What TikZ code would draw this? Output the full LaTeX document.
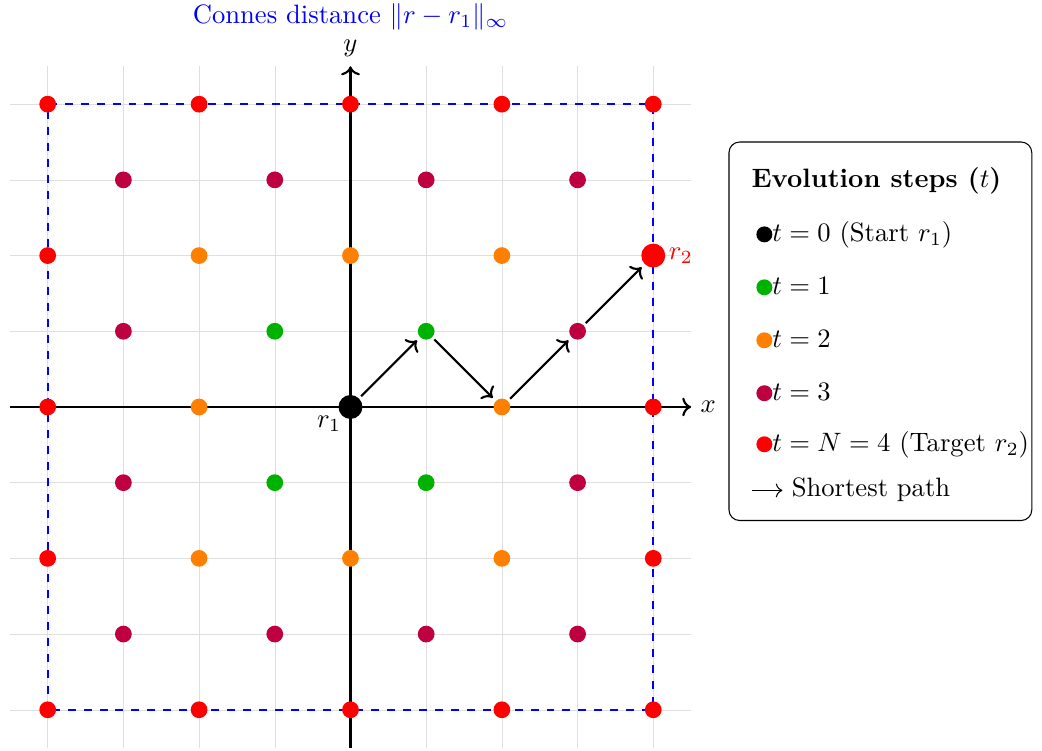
\documentclass[tikz,border=0pt]{standalone}
\usepackage{xcolor}
\usepackage{tikz}
\usetikzlibrary{positioning,arrows.meta}
\colorlet{lvl1}{green!70!black}
\colorlet{lvl2}{orange}
\colorlet{lvl3}{purple}
\colorlet{lvl4}{red}
\newcommand{\legdot}[1]{\hspace{1.8pt}\tikz[baseline=-0.6ex]\fill[#1] (0,0) circle (3pt);}
\newcommand{\legarrow}{\tikz[baseline=-0.5ex]\draw[->] (0,0) -- (0.4,0);}

\begin{document}
\begin{tikzpicture}[
  gridline/.style={gray!25, very thin},
  axis/.style={->, thick},
  bound/.style={blue, dashed, thick},
  dot/.style={circle, inner sep=0pt, minimum size=6.3pt},
  bigdot/.style={circle, inner sep=0pt, minimum size=9pt},
  move/.style={->, thick, shorten <=1pt, shorten >=1.5pt},
  legbox/.style={draw, rounded corners, minimum width=4cm, minimum height=5cm},
  legtext/.style={align=left, inner sep=0pt}
]
  \useasboundingbox (-4.63,-4.544) rectangle (9.135,5.376);
  \draw[gridline] (-4.5,-4.5) grid (4.5,4.5);
  \draw[bound] (-4,-4) rectangle (4,4);
  \coordinate (xs) at (-4.5,0);
  \coordinate (xe) at (4.5,0);
  \coordinate (ys) at (0,-4.5);
  \coordinate (ye) at (0,4.5);
  \draw[axis] (xs) -- (xe);
  \draw[axis] (ys) -- (ye);
  \node[right] (xlab) at (xe) {$x$};
  \node[above] (ylab) at (ye) {$y$};
  \node[blue] (title) at (0,5.15) {Connes distance $\|r-r_1\|_\infty$};

  \foreach \i in {-4,...,4}
    \foreach \j in {-4,...,4}{
      \pgfmathtruncatemacro\parity{mod(\i+\j+8,2)}
      \pgfmathtruncatemacro\lvl{max(abs(\i),abs(\j))}
      \ifnum\parity=0 \ifnum\lvl>0
        \node[dot, fill=lvl\lvl] (p\i\j) at (\i,\j) {};
      \fi\fi
    }

  \node[bigdot, fill=black] (r1) at (0,0) {};
  \node[bigdot, fill=red] (r2) at (4,2) {};
  \node[below left] (r1lab) at (r1.center) {$r_1$};
  \node[red, right, inner sep=1pt] (r2lab) at (r2.east) {$r_2$};
  \draw[move] (r1) -- (p11);
  \draw[move] (p11) -- (p20);
  \draw[move] (p20) -- (p31);
  \draw[move] (p31) -- (r2);

  \node[legbox] (leg) at (7,1) {};
  \node[legtext, below right=9.5pt and 8.5pt of leg.north west] (legtxt) {%
    \textbf{Evolution steps ($t$)}\\[8.3pt]
    \legdot{black}$t=0$ (Start $r_1$)\\[7.9pt]
    \legdot{lvl1}$t=1$\\[7.9pt]
    \legdot{lvl2}$t=2$\\[7.9pt]
    \legdot{lvl3}$t=3$\\[7.2pt]
    \legdot{lvl4}$t=N=4$ (Target $r_2$)\\[4.9pt]
    \legarrow{} Shortest path};
\end{tikzpicture}
\end{document}
